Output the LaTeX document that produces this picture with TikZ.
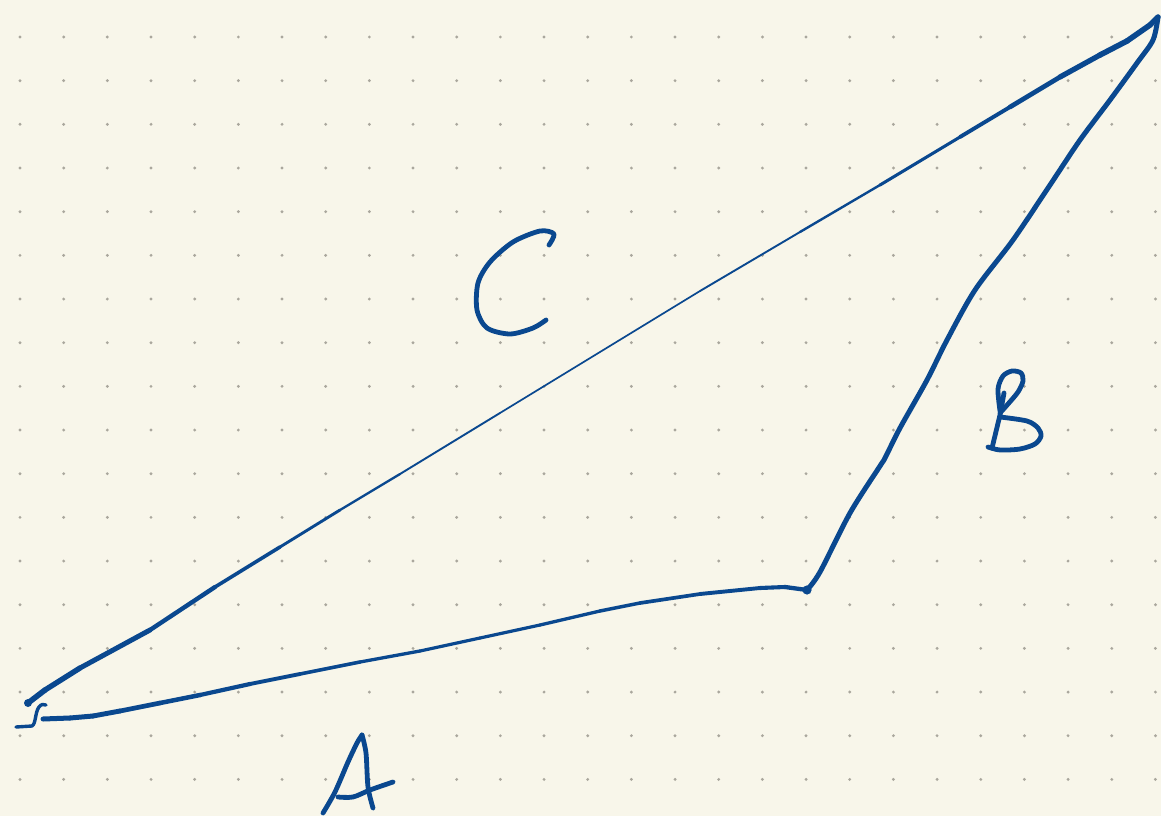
\documentclass[tikz,border=0pt]{standalone}
\definecolor{paper}{RGB}{248,246,234}
\definecolor{dotc}{RGB}{170,167,157}
\definecolor{ink}{RGB}{10,72,143}
\begin{document}
\begin{tikzpicture}[x=1pt,y=-1pt,
  pen/.style={draw=ink,line cap=round,line join=round},
  letter/.style={pen,line width=4.8pt}]
\fill[paper] (0,0) rectangle (1161,816);
\useasboundingbox (0,0) rectangle (1161,816);
% dot grid
\foreach \i in {0,...,26}{
  \foreach \j in {0,...,17}{
    \fill[dotc] ({20+43.67*\i},{37+43.67*\j}) circle (1.6);
  }
}
% vertices
\coordinate (P) at (28,703);
\coordinate (Q) at (807,590);
\coordinate (R) at (1158,17);
\coordinate (A0) at (43,719);
% side C (pressure-tapered stroke from P to R)
\foreach \a/\b/\w in {
  {28,703}/{45,690}/5.6, {45,690}/{80,668}/5.4, {80,668}/{150,630}/5.0,
  {150,630}/{215,587}/4.4, {215,587}/{280,547}/3.6, {280,547}/{340,510}/2.9,
  {340,510}/{400,474}/2.3, {400,474}/{500,413}/1.9, {500,413}/{600,352}/1.7,
  {600,352}/{700,291}/1.7, {700,291}/{800,232}/1.9, {800,232}/{880,185}/2.4,
  {880,185}/{960,137}/3.1, {960,137}/{1010,107}/3.9, {1010,107}/{1060,77}/4.7,
  {1060,77}/{1100,55}/5.3, {1100,55}/{1127,41}/5.6, {1127,41}/{1150,25}/5.6,
  {1150,25}/{1158,17}/5.4}
  {\draw[pen,line width=\w pt] (\a) -- (\b);}
\fill[ink] (P) circle (4);
% side B
\draw[pen,line width=5pt] plot[smooth,tension=0.5] coordinates {(Q) (820,572) (850,513) (880,466) (885,458) (900,428) (927,380) (947,340) (975,290) (1013,240) (1050,185) (1080,140) (1110,100) (1137,63) (1153,40) (R)};
% side A (from A0 to Q)
\foreach \a/\b/\w in {
  {43,719}/{70,718}/5.0, {70,718}/{93,716}/5.0, {93,716}/{120,711}/4.9,
  {120,711}/{160,703}/4.7, {160,703}/{200,695}/4.5, {200,695}/{250,684}/4.2,
  {250,684}/{300,674}/3.9, {300,674}/{360,662}/3.6, {360,662}/{420,651}/3.3,
  {420,651}/{480,638}/3.2, {480,638}/{540,625}/3.2, {540,625}/{600,611}/3.3,
  {600,611}/{640,603}/3.5, {640,603}/{700,594}/3.7, {700,594}/{760,588}/3.9,
  {760,588}/{785,587}/4.1, {785,587}/{807,590}/4.3}
  {\draw[pen,line width=\w pt] (\a) -- (\b);}
\fill[ink] (Q) circle (4.6);
% hook at the corner
\draw[pen,line width=3.4pt] (16,727) -- (32,726) .. controls (36,724) and (35,712) .. (39,707) .. controls (41,704) and (44,704) .. (46,705);
% letter C
\draw[letter] plot[smooth] coordinates {(549,245) (554,234) (540,231) (513,242) (490,262) (478,283) (477,310) (487,328) (510,334) (533,328) (546,320)};
% letter B
\draw[letter] (1004,393) -- (1000,415) -- (992,448);
\draw[letter] plot[smooth] coordinates {(1000,411) (998,389) (1003,376) (1012,371) (1021,373) (1023,381) (1018,392) (1008,404) (1000,413)};
\draw[letter] plot[smooth] coordinates {(1000,417) (1027,421) (1038,428) (1041,436) (1035,444) (1020,449) (1000,450) (988,447)};
% letter A
\draw[letter] plot[smooth] coordinates {(323,813) (335,792) (348,762) (357,743) (362,735)};
\draw[letter] plot[smooth] coordinates {(362,735) (366,753) (368,787) (373,808)};
\draw[letter] plot[smooth] coordinates {(338,797) (353,797) (370,790) (393,782)};
\end{tikzpicture}
\end{document}
